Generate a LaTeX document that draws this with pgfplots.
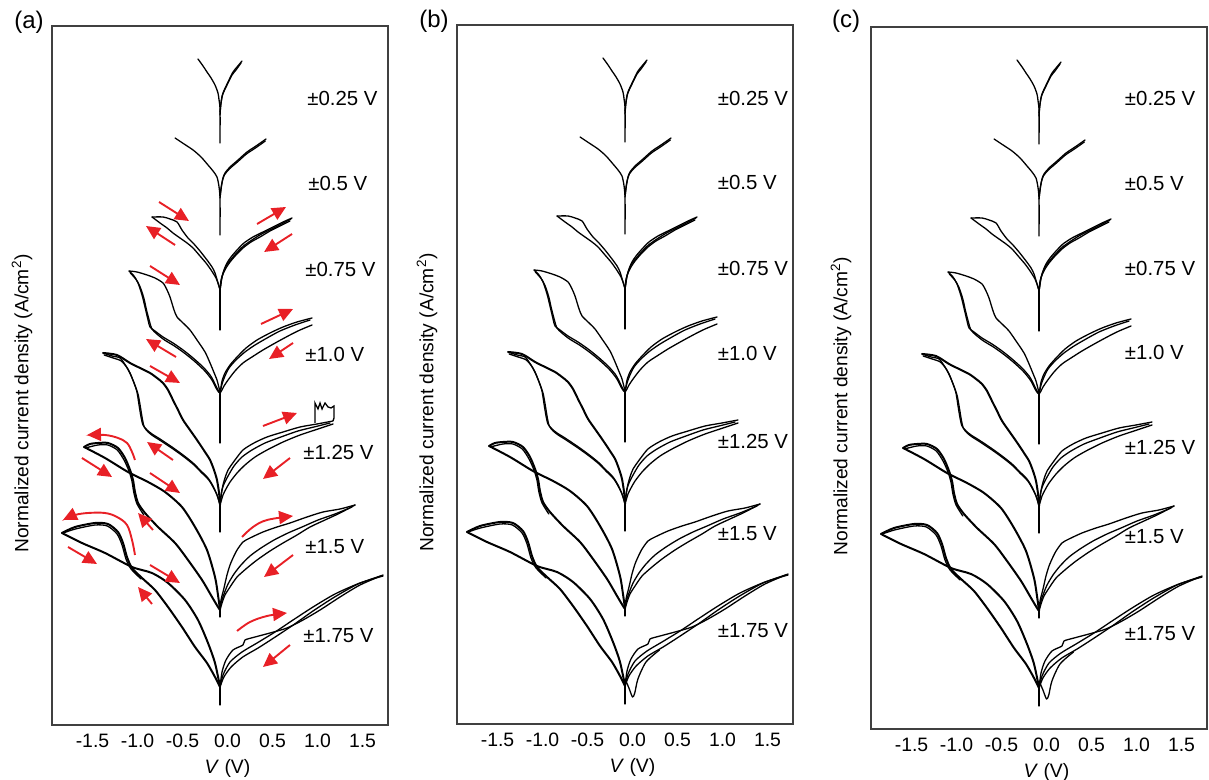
\documentclass[border=0pt]{standalone}
\usepackage{fontspec}
\setmainfont{Liberation Sans}
\usepackage{pgfplots}
\pgfplotsset{compat=1.18}
\usetikzlibrary{arrows.meta}
\definecolor{arr}{RGB}{232,32,38}

\tikzset{vl/.style={anchor=west, inner sep=0pt, font=\fontsize{10.2}{12}\selectfont}}
\pgfplotsset{
 cv/.style={black, line width=0.65pt, smooth, tension=0.45, line join=round, line cap=round},
 cvb/.style={black, line width=1.0pt, smooth, tension=0.45, line join=round, line cap=round},
 ar/.style={arr, line width=0.95pt, -{Triangle[length=7pt,width=6.5pt]}},
 arc/.style={arr, line width=0.95pt, smooth, tension=0.6, -{Triangle[length=7pt,width=6.5pt]}},
 panel/.style={scale only axis, width=168pt, height=349.5pt,
   xmin=-1.95, xmax=1.783, ymin=0, ymax=699,
   axis line style={black!75,line width=0.65pt},
   xtick={-1.5,-1,-0.5,0,0.5,1,1.5},
   xticklabels={-1.5,-1.0,-0.5,0.0,0.5,1.0,1.5},
   ytick=\empty, major tick length=0pt,
   xticklabel style={font=\fontsize{9.7}{11}\selectfont, yshift=-1pt},
   xlabel={\textit{V} (V)},
   xlabel style={font=\fontsize{9.7}{11}\selectfont, anchor=center},
   ylabel={Normalized current density (A/cm\textsuperscript{2})},
   ylabel style={font=\fontsize{9.6}{11}\selectfont, at={(axis description cs:-0.089,0.46)}, anchor=center},
   clip=false, anchor=south west}
}

\newcommand{\ivcurves}{
% +-0.25 V
\addplot[cv] coordinates {(-0.328,666) (-0.272,659) (-0.228,653) (-0.183,647) (-0.139,640) (-0.106,632) (-0.094,625) (-0.083,615) (-0.083,582)};
\addplot[cv] coordinates {(0.161,664) (0.106,658) (0.061,653) (0.006,643) (-0.050,632) (-0.072,622) (-0.083,613)};
\addplot[cv] coordinates {(0.150,662) (0.094,655) (0.050,650) (0.000,641) (-0.056,630) (-0.075,620) (-0.083,610)};
% +-0.5 V
\addplot[cv] coordinates {(-0.583,587) (-0.483,581) (-0.383,575) (-0.294,568) (-0.217,560) (-0.161,554) (-0.117,548) (-0.094,538) (-0.083,525) (-0.083,490)};
\addplot[cv] coordinates {(0.428,586) (0.317,579) (0.217,573) (0.117,565) (0.028,558) (-0.028,552) (-0.050,547) (-0.072,537) (-0.083,527)};
\addplot[cv] coordinates {(0.420,584) (0.310,577) (0.210,571) (0.110,563) (0.020,556) (-0.035,550) (-0.060,543) (-0.080,530)};
% +-0.75 V
\addplot[cv] coordinates {(-0.839,508) (-0.717,508) (-0.639,506) (-0.561,503) (-0.506,495) (-0.439,487) (-0.383,482) (-0.306,474) (-0.228,465) (-0.172,458) (-0.139,452) (-0.106,442) (-0.083,435)};
\addplot[cv] coordinates {(-0.839,508) (-0.750,502) (-0.672,497) (-0.606,492) (-0.528,487) (-0.450,482) (-0.383,477) (-0.306,469) (-0.239,462) (-0.183,455) (-0.128,447) (-0.094,439) (-0.083,435)};
\addplot[cv] coordinates {(-0.083,436) (-0.083,395)};
\addplot[cv] coordinates {(0.717,507) (0.617,503) (0.506,498) (0.394,493) (0.283,488) (0.183,482) (0.106,475) (0.039,468) (-0.006,462) (-0.039,455) (-0.061,448) (-0.083,435)};
\addplot[cv] coordinates {(0.694,504) (0.583,499) (0.472,494) (0.361,488) (0.261,483) (0.172,477) (0.094,470) (0.028,463) (-0.017,457) (-0.050,451) (-0.072,445) (-0.083,435)};
\addplot[cv] coordinates {(0.705,506) (0.600,501) (0.490,496) (0.378,491) (0.272,485) (0.178,479) (0.100,472) (0.033,465) (-0.011,460) (-0.045,453) (-0.066,446) (-0.083,435)};
% +-1.0 V
\addplot[cv] coordinates {(-1.094,454) (-1.006,453) (-0.894,450) (-0.806,447) (-0.717,442) (-0.672,435) (-0.639,428) (-0.594,415) (-0.561,408) (-0.494,402) (-0.417,395) (-0.339,385) (-0.250,373) (-0.194,362) (-0.139,350) (-0.117,345) (-0.094,337) (-0.083,332)};
\addplot[cv] coordinates {(-1.094,454) (-1.039,449) (-0.994,442) (-0.950,430) (-0.917,418) (-0.883,405) (-0.861,398) (-0.806,394) (-0.717,388) (-0.606,382) (-0.494,375) (-0.383,367) (-0.272,358) (-0.194,350) (-0.161,345) (-0.139,341) (-0.106,335) (-0.083,332)};
\addplot[cv] coordinates {(-1.080,452) (-1.020,446) (-0.975,439) (-0.930,427) (-0.900,415) (-0.865,403) (-0.840,396) (-0.785,391) (-0.700,385) (-0.590,379) (-0.480,372) (-0.370,364) (-0.262,355) (-0.188,347) (-0.155,342) (-0.134,338) (-0.100,333) (-0.083,332)};
\addplot[cv] coordinates {(-0.083,333) (-0.083,282)};
\addplot[cv] coordinates {(0.939,407) (0.772,403) (0.617,398) (0.472,392) (0.328,385) (0.206,377) (0.106,368) (0.028,360) (-0.028,352) (-0.061,344) (-0.072,338) (-0.083,332)};
\addplot[cv] coordinates {(0.939,400) (0.806,395) (0.694,390) (0.550,383) (0.394,375) (0.272,368) (0.172,362) (0.083,354) (0.006,345) (-0.039,339) (-0.061,335) (-0.083,332)};
\addplot[cv] coordinates {(0.917,405) (0.750,400) (0.583,394) (0.439,387) (0.306,380) (0.194,373) (0.094,365) (0.017,357) (-0.028,349) (-0.061,341) (-0.083,332)};
% +-1.25 V
\addplot[cvb] coordinates {(-1.383,372) (-1.228,370) (-1.083,362) (-0.972,357) (-0.861,352) (-0.783,347) (-0.717,342) (-0.661,335) (-0.606,325) (-0.550,315) (-0.494,305) (-0.417,295) (-0.339,285) (-0.250,273) (-0.194,265) (-0.150,255) (-0.117,245) (-0.094,232) (-0.083,220)};
\addplot[cv] coordinates {(-1.383,372) (-1.283,369) (-1.194,367) (-1.128,359) (-1.083,352) (-1.039,342) (-1.006,333) (-0.983,320) (-0.961,308) (-0.939,300) (-0.894,295) (-0.839,291) (-0.750,286) (-0.617,278) (-0.494,270) (-0.383,262) (-0.306,255) (-0.217,247) (-0.161,239) (-0.117,230) (-0.083,220)};
\addplot[cv] coordinates {(-1.370,370) (-1.270,367) (-1.180,364) (-1.115,357) (-1.070,349) (-1.025,339) (-0.992,330) (-0.968,318) (-0.946,306) (-0.925,298) (-0.882,293) (-0.826,289) (-0.738,284) (-0.605,276) (-0.482,268) (-0.372,260) (-0.296,253) (-0.208,245) (-0.155,237) (-0.112,229) (-0.083,220)};
\addplot[cv] coordinates {(-0.083,221) (-0.083,193)};
\addplot[cv] coordinates {(1.172,304) (0.994,301) (0.806,298) (0.617,293) (0.439,288) (0.294,282) (0.172,275) (0.083,265) (0.006,255) (-0.028,247) (-0.050,240) (-0.072,230) (-0.083,220)};
\addplot[cv] coordinates {(1.172,301) (0.972,295) (0.806,290) (0.617,283) (0.439,275) (0.306,268) (0.194,260) (0.106,252) (0.028,243) (-0.017,236) (-0.050,230) (-0.083,220)};
\addplot[cv] coordinates {(1.139,302) (0.961,298) (0.783,294) (0.594,288) (0.417,282) (0.272,275) (0.161,268) (0.072,259) (0.006,249) (-0.039,241) (-0.061,235) (-0.083,220)};
% +-1.5 V
\addplot[cvb] coordinates {(-1.594,278) (-1.528,281) (-1.439,282) (-1.328,282) (-1.217,277) (-1.139,267) (-1.083,255) (-1.050,245) (-1.028,233) (-0.994,222) (-0.917,212) (-0.772,198) (-0.583,182) (-0.439,165) (-0.283,145) (-0.172,128) (-0.106,118) (-0.083,115)};
\addplot[cv] coordinates {(-1.580,277) (-1.440,280) (-1.330,280) (-1.225,275) (-1.150,265) (-1.095,254) (-1.062,244) (-1.040,232) (-1.005,221) (-0.930,210)};
\addplot[cvb] coordinates {(-1.594,278) (-1.361,267) (-1.106,253) (-0.883,243) (-0.694,233) (-0.506,218) (-0.361,198) (-0.228,175) (-0.139,148) (-0.106,130) (-0.083,115)};
\addplot[cv] coordinates {(-0.083,116) (-0.083,108)};
\addplot[cv] coordinates {(1.417,220) (1.250,216) (1.061,213) (0.883,208) (0.694,202) (0.550,198) (0.394,193) (0.250,187) (0.172,183) (0.106,175) (0.061,167) (0.028,160) (-0.006,150) (-0.039,137) (-0.072,125) (-0.083,115)};
\addplot[cv] coordinates {(1.417,220) (1.250,212) (1.083,205) (0.917,198) (0.772,190) (0.617,182) (0.472,174) (0.328,165) (0.217,157) (0.106,148) (0.028,138) (-0.028,130) (-0.061,122) (-0.083,115)};
\addplot[cv] coordinates {(1.383,218) (1.194,211) (1.006,205) (0.828,198) (0.672,192) (0.517,185) (0.372,177) (0.250,169) (0.150,160) (0.072,151) (0.006,141) (-0.039,131) (-0.072,122) (-0.083,115)};
% +-1.75 V
\addplot[cvb] coordinates {(-1.839,192) (-1.694,198) (-1.472,202) (-1.328,201) (-1.217,193) (-1.161,182) (-1.117,168) (-1.061,157) (-0.950,147) (-0.806,135) (-0.661,118) (-0.506,98) (-0.361,78) (-0.228,62) (-0.139,48) (-0.083,38)};
\addplot[cv] coordinates {(-1.825,192) (-1.690,196) (-1.470,200) (-1.335,199) (-1.227,191) (-1.172,180) (-1.128,166) (-1.072,156) (-0.960,146)};
\addplot[cvb] coordinates {(-1.839,192) (-1.617,182) (-1.361,172) (-1.061,158) (-0.839,152) (-0.661,142) (-0.472,125) (-0.328,105) (-0.217,82) (-0.139,62) (-0.083,38)};
\addplot[cv] coordinates {(-0.083,39) (-0.083,20)};
\addplot[cv] coordinates {(-0.083,38) (-0.061,53) (-0.017,65) (0.061,75) (0.172,80) (0.194,85) (0.306,88) (0.472,92) (0.661,97) (0.839,105) (1.028,115) (1.250,128) (1.472,140) (1.728,150)};
\addplot[cv] coordinates {(-0.083,38) (-0.050,50) (0.028,63) (0.161,73) (0.328,82) (0.528,93) (0.728,105) (0.950,118) (1.194,131) (1.472,142) (1.728,149)};
\addplot[cv] coordinates {(-0.083,38) (-0.040,48) (0.040,58) (0.170,68) (0.340,77) (0.530,88) (0.730,100) (0.950,114) (1.190,128) (1.450,141) (1.700,149)};
}

% small hook below the +-1.75 V minimum, seen in (b) and (c)
\newcommand{\hookBC}{
\addplot[cv] coordinates {(-0.083,45) (-0.040,36) (0.000,27) (0.025,31) (0.060,45) (0.150,62) (0.300,74)};
}

\newcommand{\arrowsA}{
\addplot[black, line width=0.65pt, sharp plot] coordinates {(0.972,302) (0.972,322) (1.005,316) (1.028,322) (1.050,316) (1.083,322) (1.117,318) (1.150,317) (1.183,319) (1.183,307) (1.172,304)};
\addplot[ar] coordinates {(-0.761,523) (-0.428,504)};
\addplot[ar] coordinates {(-0.583,480) (-0.906,499)};
\addplot[ar] coordinates {(0.328,501) (0.650,518)};
\addplot[ar] coordinates {(0.717,491) (0.406,473)};
\addplot[ar] coordinates {(-0.861,459) (-0.528,440)};
\addplot[ar] coordinates {(0.372,401) (0.728,416)};
\addplot[ar] coordinates {(-0.572,368) (-0.906,386)};
\addplot[ar] coordinates {(0.728,382) (0.461,366)};
\addplot[ar] coordinates {(-0.861,359) (-0.528,342)};
\addplot[ar] coordinates {(0.394,299) (0.772,312)};
\addplot[ar] coordinates {(-0.606,265) (-0.894,283)};
\addplot[ar] coordinates {(0.694,267) (0.394,246)};
\addplot[arc] coordinates {(-1.028,265) (-1.061,273) (-1.117,282) (-1.217,287) (-1.361,290) (-1.561,290)};
\addplot[ar] coordinates {(-1.617,267) (-1.283,248)};
\addplot[ar] coordinates {(-0.861,252) (-0.528,232)};
\addplot[ar] coordinates {(-0.828,195) (-0.994,212)};
\addplot[arc] coordinates {(0.161,188) (0.283,198) (0.439,205) (0.728,209)};
\addplot[ar] coordinates {(0.728,170) (0.406,148)};
\addplot[arc] coordinates {(-1.028,170) (-1.061,185) (-1.117,200) (-1.228,208) (-1.361,212) (-1.550,212) (-1.694,210) (-1.828,205)};
\addplot[ar] coordinates {(-1.772,178) (-1.450,161)};
\addplot[ar] coordinates {(-0.861,160) (-0.528,142)};
\addplot[ar] coordinates {(-0.839,121) (-0.994,138)};
\addplot[arc] coordinates {(0.106,94) (0.250,103) (0.439,109) (0.661,112)};
\addplot[ar] coordinates {(0.694,80) (0.394,58)};
}

\begin{document}
\begin{tikzpicture}
% (a)
\begin{axis}[panel, at={(26pt,27.5pt)}, xlabel style={at={(axis cs:0,0)}, yshift=-21.5pt}]
\ivcurves
\arrowsA
\node[vl] at (axis cs:0.883,627) {±0.25 V};
\node[vl] at (axis cs:0.894,542) {±0.5 V};
\node[vl] at (axis cs:0.861,456) {±0.75 V};
\node[vl] at (axis cs:0.861,371) {±1.0 V};
\node[vl] at (axis cs:0.839,273) {±1.25 V};
\node[vl] at (axis cs:0.861,178) {±1.5 V};
\node[vl] at (axis cs:0.839,89) {±1.75 V};
\end{axis}
% (b)
\begin{axis}[panel, at={(228.5pt,28pt)}, xlabel style={at={(axis cs:0,0)}, yshift=-21.5pt}]
\ivcurves
\hookBC
\node[vl] at (axis cs:0.944,626) {±0.25 V};
\node[vl] at (axis cs:0.944,542) {±0.5 V};
\node[vl] at (axis cs:0.944,456) {±0.75 V};
\node[vl] at (axis cs:0.944,371) {±1.0 V};
\node[vl] at (axis cs:0.944,283) {±1.25 V};
\node[vl] at (axis cs:0.944,190) {±1.5 V};
\node[vl] at (axis cs:0.944,93) {±1.75 V};
\end{axis}
% (c)
\begin{axis}[panel, at={(435.5pt,25.5pt)}, height=351pt, ymin=-3, xlabel style={at={(axis cs:0,-3)}, yshift=-21.5pt}]
\ivcurves
\hookBC
\node[vl] at (axis cs:0.867,628) {±0.25 V};
\node[vl] at (axis cs:0.867,543) {±0.5 V};
\node[vl] at (axis cs:0.867,458) {±0.75 V};
\node[vl] at (axis cs:0.867,374) {±1.0 V};
\node[vl] at (axis cs:0.867,279) {±1.25 V};
\node[vl] at (axis cs:0.867,189) {±1.5 V};
\node[vl] at (axis cs:0.867,92) {±1.75 V};
\end{axis}
\node[font=\fontsize{12}{14}\selectfont] at (14.5pt,379pt) {(a)};
\node[font=\fontsize{12}{14}\selectfont] at (217pt,379.5pt) {(b)};
\node[font=\fontsize{12}{14}\selectfont] at (423pt,379.5pt) {(c)};
\pgfresetboundingbox
\path[use as bounding box] (0,0) rectangle (604.5pt,390pt);
\end{tikzpicture}
\end{document}
